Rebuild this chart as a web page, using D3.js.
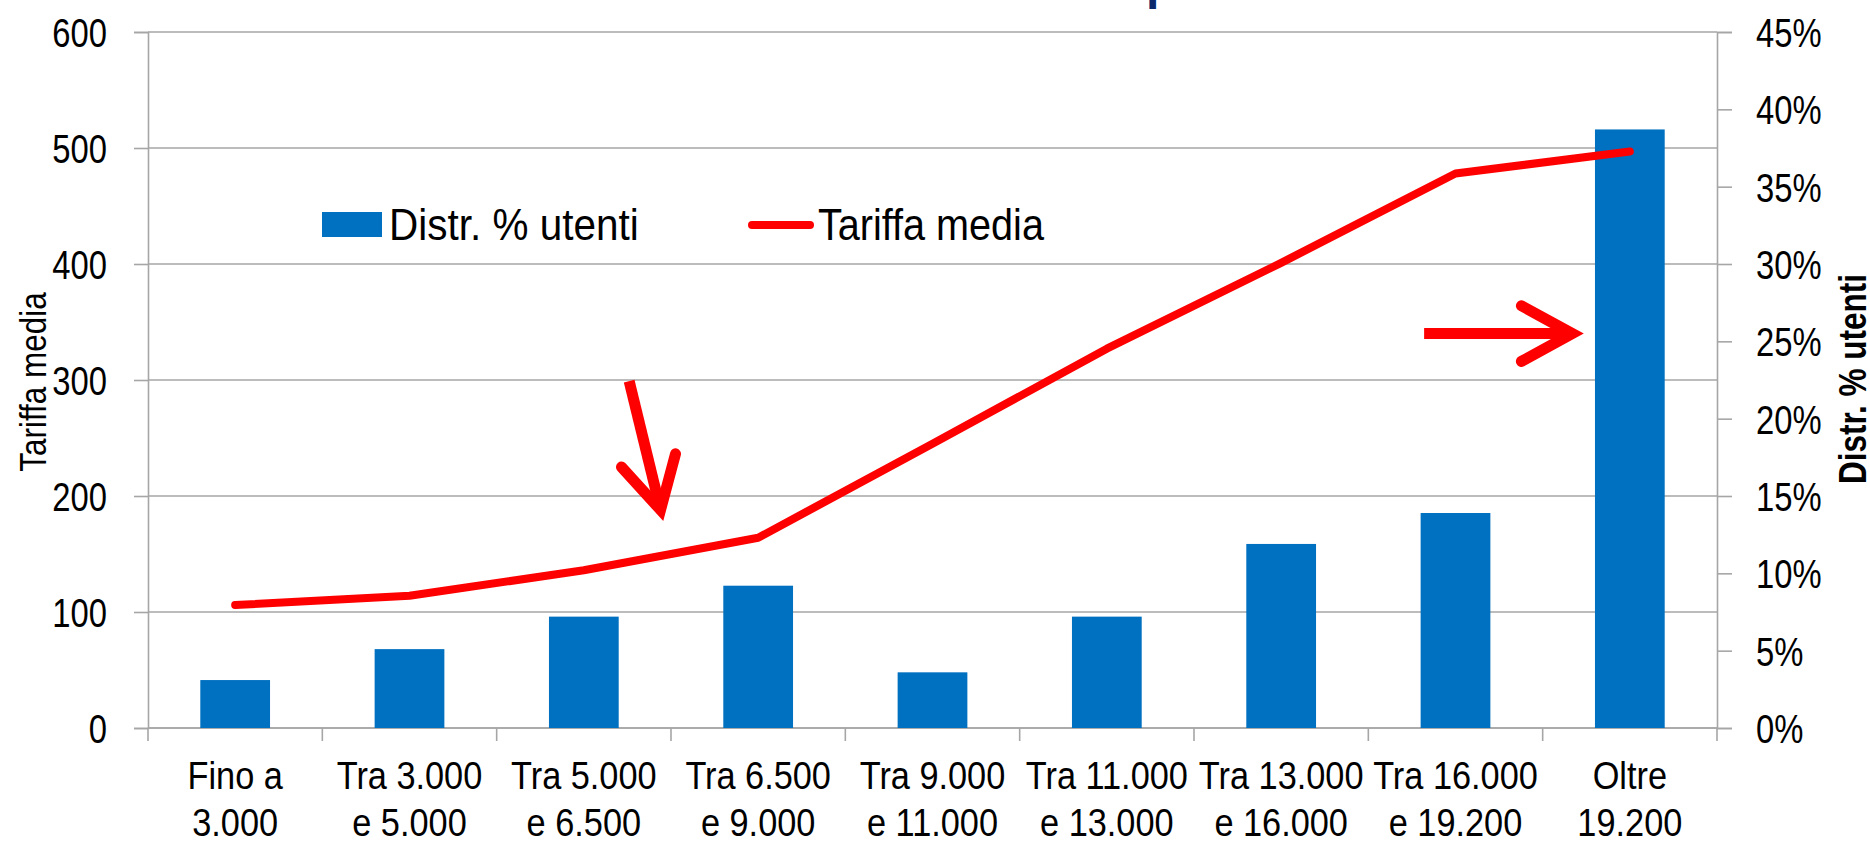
<!DOCTYPE html>
<html>
<head>
<meta charset="utf-8">
<script src="https://cdnjs.cloudflare.com/ajax/libs/d3/7.8.5/d3.min.js"></script>
<style>
	html, body { margin: 0; padding: 0; background: #fff; overflow: hidden; }
	svg { display: block; font-family: "Liberation Sans", Arial, sans-serif; }
</style>
</head>
<body>
<div id="chart"></div>
<script>
// Fasce di reddito (two lines each)
const categories = [
	["Fino a", "3.000"],
	["Tra 3.000", "e 5.000"],
	["Tra 5.000", "e 6.500"],
	["Tra 6.500", "e 9.000"],
	["Tra 9.000", "e 11.000"],
	["Tra 11.000", "e 13.000"],
	["Tra 13.000", "e 16.000"],
	["Tra 16.000", "e 19.200"],
	["Oltre", "19.200"]
];
// Distr. % utenti (bars, right axis)
const distrUtenti = [0.031, 0.051, 0.072, 0.092, 0.036, 0.072, 0.119, 0.139, 0.387];
// Tariffa media (line, left axis)
const tariffaMedia = [106, 114, 136, 164, 245, 327, 401, 478, 497];

const leftTicks = [0, 100, 200, 300, 400, 500, 600];
const rightTicks = [0, 0.05, 0.1, 0.15, 0.2, 0.25, 0.3, 0.35, 0.4, 0.45];

const W = 1870;
const H = 841;
const margin = { top: 32, right: 153, bottom: 113, left: 148 };
const width = W - margin.left - margin.right;
const height = H - margin.top - margin.bottom;

const svg = d3
	.select("#chart")
	.append("svg")
	.attr("width", W)
	.attr("height", H);

const g = svg
	.append("g")
	.attr("transform", "translate(" + margin.left + "," + margin.top + ")");

// Scales
const x = d3.scaleBand().domain(d3.range(categories.length)).range([0, width]);
const yLeft = d3.scaleLinear().domain([0, 600]).range([height, 0]);
const yRight = d3.scaleLinear().domain([0, 0.45]).range([height, 0]);
const cx = (i) => x(i) + x.bandwidth() / 2;

const gridColor = "#a6a6a6";

// squeeze text horizontally around its anchor (no narrow font installed)
function narrow(sel, sx, anchorX) {
	sel.each(function (d, i) {
		const t = d3.select(this);
		const ax = anchorX ? anchorX(d, i) : +t.attr("x") || 0;
		t.attr("transform", "translate(" + ax + ",0) scale(" + sx + ",1) translate(" + -ax + ",0)");
	});
}

// Gridlines on the left axis values
g.append("g")
	.selectAll("line")
	.data(leftTicks)
	.enter()
	.append("line")
	.attr("x1", 0)
	.attr("x2", width)
	.attr("y1", (d) => yLeft(d))
	.attr("y2", (d) => yLeft(d))
	.attr("stroke", gridColor)
	.attr("stroke-width", 1.6);

// Left axis
const leftAxis = g
	.append("g")
	.call(d3.axisLeft(yLeft).tickValues(leftTicks).tickSize(14).tickPadding(27));
// Right axis
const rightAxis = g
	.append("g")
	.attr("transform", "translate(" + width + ",0)")
	.call(
		d3
			.axisRight(yRight)
			.tickValues(rightTicks)
			.tickSize(15)
			.tickPadding(24)
			.tickFormat(d3.format(".0%"))
	);
// Bottom axis: ticks at category boundaries
const bottomAxis = g
	.append("g")
	.attr("transform", "translate(0," + height + ")");
bottomAxis
	.append("line")
	.attr("x1", 0)
	.attr("x2", width)
	.attr("stroke", gridColor)
	.attr("stroke-width", 1.6);
bottomAxis
	.selectAll(".sep")
	.data(d3.range(categories.length + 1))
	.enter()
	.append("line")
	.attr("class", "sep")
	.attr("x1", (d) => (d < categories.length ? x(d) : width))
	.attr("x2", (d) => (d < categories.length ? x(d) : width))
	.attr("y1", 0)
	.attr("y2", 13)
	.attr("stroke", gridColor)
	.attr("stroke-width", 1.6);

[leftAxis, rightAxis].forEach((ax) => {
	ax.select(".domain").attr("stroke", gridColor).attr("stroke-width", 1.6);
	ax.selectAll(".tick line").attr("stroke", gridColor).attr("stroke-width", 1.6);
	ax.selectAll(".tick text")
		.attr("fill", "#000")
		.style("font-size", "40px")
		.attr("dy", "0.36em")
		.call(narrow, 0.82);
});

// Category labels
const catLabels = bottomAxis
	.selectAll(".cat")
	.data(categories)
	.enter()
	.append("text")
	.attr("class", "cat")
	.attr("text-anchor", "middle")
	.style("font-size", "39px")
	.attr("fill", "#000");
catLabels
	.append("tspan")
	.attr("x", (d, i) => cx(i))
	.attr("y", 61)
	.text((d) => d[0]);
catLabels
	.append("tspan")
	.attr("x", (d, i) => cx(i))
	.attr("y", 108)
	.text((d) => d[1]);
catLabels.call(narrow, 0.88, (d, i) => cx(i));

// Bars
g.selectAll(".bar")
	.data(distrUtenti)
	.enter()
	.append("rect")
	.attr("class", "bar")
	.attr("x", (d, i) => cx(i) - x.bandwidth() * 0.2)
	.attr("width", x.bandwidth() * 0.4)
	.attr("y", (d) => yRight(d))
	.attr("height", (d) => height - yRight(d))
	.attr("fill", "#0070c0");

// Line
const line = d3
	.line()
	.x((d, i) => cx(i))
	.y((d) => yLeft(d));
g.append("path")
	.datum(tariffaMedia)
	.attr("d", line)
	.attr("fill", "none")
	.attr("stroke", "#ff0000")
	.attr("stroke-width", 8)
	.attr("stroke-linejoin", "round")
	.attr("stroke-linecap", "round");

// Annotation arrows (band position, tariffa value)
const bx = (p) => p * x.bandwidth();
function arrow(from, to, headLen, spread) {
	const x1 = bx(from[0]), y1 = yLeft(from[1]);
	const x2 = bx(to[0]), y2 = yLeft(to[1]);
	const a = Math.atan2(y2 - y1, x2 - x1);
	const hx1 = x2 - headLen * Math.cos(a - spread);
	const hy1 = y2 - headLen * Math.sin(a - spread);
	const hx2 = x2 - headLen * Math.cos(a + spread);
	const hy2 = y2 - headLen * Math.sin(a + spread);
	g.append("line")
		.attr("x1", x1).attr("y1", y1)
		.attr("x2", x2 - 10 * Math.cos(a)).attr("y2", y2 - 10 * Math.sin(a))
		.attr("stroke", "#ff0000")
		.attr("stroke-width", 11);
	g.append("path")
		.attr("d", "M" + hx1 + "," + hy1 + "L" + x2 + "," + y2 + "L" + hx2 + "," + hy2)
		.attr("fill", "none")
		.attr("stroke", "#ff0000")
		.attr("stroke-width", 11)
		.attr("stroke-linecap", "round")
		.attr("stroke-linejoin", "miter")
		.attr("stroke-miterlimit", 10);
}
arrow([2.76, 299], [2.94, 188], 58, 0.5);
arrow([7.32, 340], [8.17, 340], 58, 0.5);

// Legend
const legend = svg.append("g");
legend
	.append("rect")
	.attr("x", 322)
	.attr("y", 212)
	.attr("width", 60)
	.attr("height", 25)
	.attr("fill", "#0070c0");
legend
	.append("text")
	.attr("x", 389)
	.attr("y", 240)
	.style("font-size", "44px")
	.text("Distr. % utenti")
	.call(narrow, 0.92);
legend
	.append("line")
	.attr("x1", 752)
	.attr("x2", 810)
	.attr("y1", 225)
	.attr("y2", 225)
	.attr("stroke", "#ff0000")
	.attr("stroke-width", 8)
	.attr("stroke-linecap", "round");
legend
	.append("text")
	.attr("x", 818)
	.attr("y", 240)
	.style("font-size", "44px")
	.text("Tariffa media")
	.call(narrow, 0.9);

// Axis titles
svg.append("text")
	.attr("transform", "translate(46,382) rotate(-90) scale(0.85,1)")
	.attr("text-anchor", "middle")
	.style("font-size", "37px")
	.text("Tariffa media");
svg.append("text")
	.attr("transform", "translate(1866,379) rotate(-90) scale(0.83,1)")
	.attr("text-anchor", "middle")
	.style("font-size", "38px")
	.style("font-weight", "bold")
	.text("Distr. % utenti");

// Cut-off title (only the descender shows)
svg.append("text")
	.attr("x", 1146)
	.attr("y", -1)
	.style("font-size", "48px")
	.style("font-weight", "bold")
	.attr("fill", "#0b2a6b")
	.text("p");
</script>
</body>
</html>
